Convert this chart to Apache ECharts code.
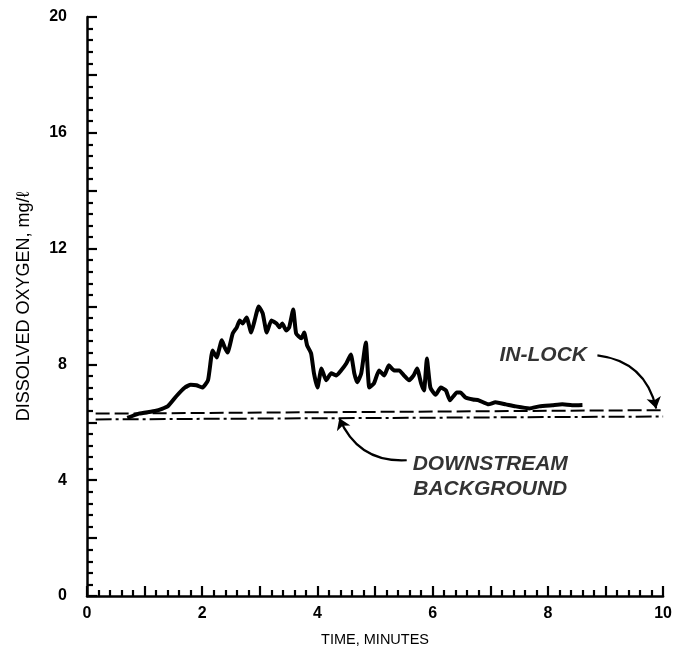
<!DOCTYPE html>
<html>
<head>
<meta charset="utf-8">
<script src="https://cdn.jsdelivr.net/npm/echarts@6/dist/echarts.min.js"></script>
<style>
html,body{margin:0;padding:0;background:#fff;}
#c{width:675px;height:656px;}
</style>
</head>
<body>
<div id="c"></div>
<script>
// Main in-lock dissolved oxygen trace: [time (min), DO (mg/l)]
var inLockTrace = [
  [0.7,6.15],[0.9,6.3],[1.2,6.4],[1.4,6.55],[1.55,6.9],[1.7,7.2],[1.8,7.3],[1.9,7.28],[2.0,7.2],[2.1,7.45],
  [2.18,8.48],[2.25,8.24],[2.34,8.83],[2.39,8.59],[2.44,8.41],[2.53,9.07],[2.6,9.28],[2.65,9.52],[2.7,9.41],[2.77,9.62],
  [2.85,9.1],[2.91,9.52],[2.98,10.0],[3.05,9.76],[3.12,9.1],[3.2,9.52],[3.29,9.41],[3.34,9.28],[3.39,9.41],[3.46,9.17],
  [3.51,9.28],[3.58,9.9],[3.63,9.07],[3.72,8.9],[3.77,9.1],[3.82,8.66],[3.89,8.38],[3.94,7.69],[4.0,7.2],[4.07,7.86],
  [4.15,7.45],[4.24,7.69],[4.33,7.62],[4.41,7.79],[4.5,8.03],[4.58,8.34],[4.64,7.69],[4.69,7.38],[4.76,7.69],[4.84,8.76],
  [4.9,7.2],[4.98,7.34],[5.07,7.79],[5.16,7.62],[5.24,7.97],[5.33,7.79],[5.42,7.79],[5.5,7.62],[5.59,7.45],[5.67,7.62],
  [5.73,7.86],[5.8,7.34],[5.85,7.1],[5.9,8.2],[5.96,7.2],[6.05,6.95],[6.14,7.2],[6.23,7.1],[6.3,6.76],[6.42,7.03],
  [6.48,7.03],[6.57,6.86],[6.7,6.79],[6.8,6.76],[6.97,6.62],[7.09,6.69],[7.27,6.62],[7.44,6.55],[7.68,6.48],[7.85,6.55],
  [8.08,6.59],[8.25,6.62],[8.42,6.59],[8.6,6.6]
];
// Reference lines
var inLockBaseline = [[0.15,6.3],[10,6.42]];
var downstreamBackground = [[0.15,6.1],[10,6.2]];
// Axis settings
var xMin = 0, xMax = 10, yMin = 0, yMax = 20;
// Annotations
var annoLabels = [
  {name:'IN-LOCK', value:[7.92,8.31]},
  {name:'DOWNSTREAM', value:[7.0,4.55]},
  {name:'BACKGROUND', value:[7.0,3.69]}
];
var annoArrows = [
  {coords:[[8.86,8.31],[9.88,6.48]], curveness:0.35},
  {coords:[[5.55,4.69],[4.38,6.14]], curveness:0.35}
];

var chart = echarts.init(document.getElementById('c'), null, {renderer:'canvas'});
var axisFont = 'Liberation Sans, Arial, Helvetica, sans-serif';
chart.setOption({
  animation:false,
  backgroundColor:'#fff',
  grid:{left:87,right:8,top:17,bottom:60},
  xAxis:{
    type:'value', min:xMin, max:xMax, interval:1,
    name:'TIME, MINUTES', nameLocation:'middle', nameGap:36,
    nameTextStyle:{color:'#000',fontSize:14.5,fontFamily:axisFont},
    axisLine:{show:true,onZero:false,lineStyle:{color:'#000',width:2.5}},
    axisTick:{show:true,inside:true,length:10,lineStyle:{color:'#000',width:2.2}},
    minorTick:{show:true,splitNumber:5,length:6,lineStyle:{color:'#000',width:2.2}},
    splitLine:{show:false},
    axisLabel:{color:'#000',fontSize:16,fontWeight:'bold',fontFamily:axisFont,margin:10,
      formatter:function(v){return v%2===0?String(v):'';}}
  },
  yAxis:{
    type:'value', min:yMin, max:yMax, interval:2,
    name:'DISSOLVED OXYGEN, mg/\u2113', nameLocation:'middle', nameGap:54, nameRotate:90,
    nameTextStyle:{color:'#000',fontSize:18,fontFamily:axisFont},
    axisLine:{show:true,onZero:false,lineStyle:{color:'#000',width:2.5}},
    axisTick:{show:true,inside:true,length:10,lineStyle:{color:'#000',width:2.2}},
    minorTick:{show:true,splitNumber:5,length:6,lineStyle:{color:'#000',width:2.2}},
    splitLine:{show:false},
    axisLabel:{color:'#000',fontSize:16,fontWeight:'bold',fontFamily:axisFont,margin:20,
      formatter:function(v){return v%4===0?String(v):'';}}
  },
  series:[
    {type:'line', data:inLockBaseline, symbol:'none', silent:true,
      lineStyle:{color:'#000',width:2,type:[14,5]}},
    {type:'line', data:downstreamBackground, symbol:'none', silent:true,
      lineStyle:{color:'#000',width:2,type:[16,4,3,4]}},
    {type:'line', data:inLockTrace, symbol:'none', smooth:0.15,
      lineStyle:{color:'#000',width:4}},
    {type:'lines', coordinateSystem:'cartesian2d', silent:true,
      symbol:['none','arrow'], symbolSize:11,
      data:annoArrows.map(function(a){return {coords:a.coords, lineStyle:{curveness:a.curveness}};}),
      lineStyle:{color:'#000',width:2.2,opacity:1}},
    {type:'scatter', data:annoLabels, symbolSize:0, silent:true,
      label:{show:true,position:'inside',formatter:'{b}',color:'#000',fontSize:21,
        fontWeight:'bold',fontStyle:'italic',fontFamily:axisFont}}
  ]
});
</script>
</body>
</html>
